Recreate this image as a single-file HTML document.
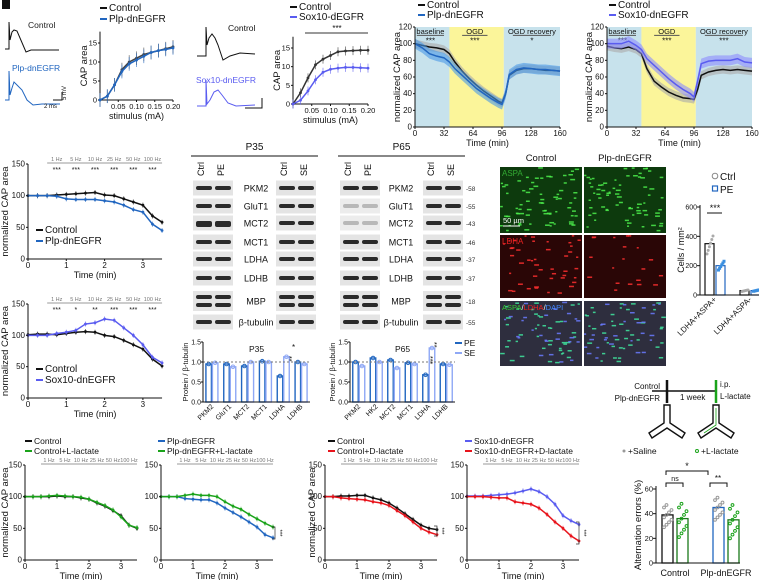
<!DOCTYPE html>
<html><head><meta charset="utf-8"><style>
body{margin:0;background:#fff}
svg{display:block;font-family:"Liberation Sans",Arial,sans-serif}
</style></head><body>
<svg id="fig" width="759" height="580" viewBox="0 0 759 580" xmlns="http://www.w3.org/2000/svg">
<rect x="2" y="0" width="8" height="9" fill="#111"/>
</svg>
<script>
// ---- data ----
const stimX=[0,0.02,0.04,0.06,0.08,0.1,0.12,0.14,0.16,0.18,0.2];
const stim1Control=[0,1,4,8,10,11,12,12.5,13,13.5,14];
const stim1Plp=[0,1,4,7.5,9.5,10.5,11.5,12.5,13,13.3,13.7];
const stim2Control=[0,3,7,10.5,12,13,14,14.2,14.3,14.4,14.4];
const stim2Sox=[0,1,3.5,6.5,8.5,9.3,9.6,9.8,9.8,9.7,9.6];
const stimTicks=[0.05,0.10,0.15,0.20];

const ogdT=[0,8,16,24,32,38,44,52,60,68,76,84,92,96,100,104,112,120,128,136,144,152,160];
const ogd1Control=[100,98,96,95,93,88,78,67,58,50,43,37,31,29,40,62,68,70,70,69,68,68,67];
const ogd1Plp=[100,95,88,85,83,78,70,62,54,46,40,34,29,27,40,63,69,71,70,69,69,68,67];
const ogd2Control=[97,95,94,96,93,88,70,55,48,42,38,35,34,33,45,62,66,68,69,68,69,68,67];
const ogd2Sox=[100,100,100,103,98,93,82,74,66,58,51,45,40,36,55,76,79,80,80,80,82,78,77];
const ogdTicks=[0,32,64,96,128,160];
const ogdYTicks=[0,20,40,60,80,100,120];

const fT=[0,0.25,0.5,0.75,1,1.25,1.5,1.75,2,2.25,2.5,2.75,3,3.25,3.5];
const freq1Control=[100,100,100,101,102,103,104,105,101,100,95,90,85,68,58];
const freq1Plp=[100,100,100,99,95,94,94,94,92,90,85,78,74,55,45];
const freq2Control=[101,102,102,101,103,105,106,105,100,98,92,85,78,62,51];
const freq2Sox=[100,100,100,103,105,108,118,120,126,124,112,100,85,65,56];
const b1Control=[100,100,100,100,101,100,100,98,96,90,85,78,70,55,50];
const b1Lac=[100,100,100,101,102,101,100,99,96,91,86,79,68,55,51];
const b2Plp=[100,100,100,97,96,95,95,90,82,75,68,60,52,40,35];
const b2Lac=[100,100,100,102,104,102,102,100,92,85,80,72,65,58,52];
const b3Control=[100,100,101,101,102,102,98,95,90,82,73,64,55,50,48];
const b3D=[100,100,98,97,96,95,92,90,86,78,70,60,50,44,40];
const b4Sox=[101,101,101,102,103,104,106,109,112,108,100,88,70,62,56];
const b4D=[100,100,100,99,98,98,92,90,88,82,72,60,50,38,30];
const freqLabels=["1 Hz","5 Hz","10 Hz","25 Hz","50 Hz","100 Hz"];
const freqTicks=[0,1,2,3];

const p35Cats=["PKM2","GluT1","MCT2","MCT1","LDHA","LDHB"];
const p35PE=[0.95,0.95,0.9,1.02,0.65,1.0];
const p35SE=[0.98,0.88,1.0,1.0,1.13,0.95];
const p65Cats=["PKM2","HK2","MCT2","MCT1","LDHA","LDHB"];
const p65PE=[1.0,1.1,1.05,0.98,0.68,0.95];
const p65SE=[0.9,1.0,0.85,0.95,1.35,0.93];
const blotRows=["PKM2","GluT1","MCT2","MCT1","LDHA","LDHB","MBP","β-tubulin"];
const mwMarkers=["58","55","43","46","37","37","18","55"];

const cellCats=["LDHA+ASPA+","LDHA+ASPA-"];
const cellCtrl=[350,30];
const cellPE=[200,30];
const altCats=["Control","Plp-dnEGFR"];
const altSaline=[39,45];
const altLactate=[36,35];

// ---- helpers ----
const S=document.getElementById('fig');
const NS='http://www.w3.org/2000/svg';
function mk(tag,attrs,parent){const e=document.createElementNS(NS,tag);for(const k in attrs)e.setAttribute(k,attrs[k]);(parent||S).appendChild(e);return e;}
function txt(x,y,s,size,opts){const o=Object.assign({x:x,y:y,'font-size':size,fill:'#111'},opts||{});const e=mk('text',o);e.textContent=s;return e;}
function lin(d0,d1,r0,r1){return v=>r0+(v-d0)/(d1-d0)*(r1-r0);}

function axes(name,sx,sy,xd,yd,xt,yt,xfmt,ytitle,xtitle,ytx,fs){
  const g=mk('g',{});
  
  
  mk('line',{x1:sx(xd[0]),y1:sy(yd[0]),x2:sx(xd[1]),y2:sy(yd[0]),stroke:'#111','stroke-width':1},g);
  mk('line',{x1:sx(xd[0]),y1:sy(yd[0]),x2:sx(xd[0]),y2:sy(yd[1]),stroke:'#111','stroke-width':1},g);
  xt.forEach(v=>{mk('line',{x1:sx(v),y1:sy(yd[0]),x2:sx(v),y2:sy(yd[0])+2,stroke:'#111'},g);
    const t=txt(sx(v),sy(yd[0])+9,xfmt(v),fs||8,{'text-anchor':'middle'});g.appendChild(t);});
  yt.forEach(v=>{mk('line',{x1:sx(xd[0])-2,y1:sy(v),x2:sx(xd[0]),y2:sy(v),stroke:'#111'},g);
    const t=txt(sx(xd[0])-3,sy(v)+2.5,String(v),fs||8,{'text-anchor':'end'});g.appendChild(t);});
  if(xtitle){const t=txt((sx(xd[0])+sx(xd[1]))/2,sy(yd[0])+19,xtitle,9,{'text-anchor':'middle'});g.appendChild(t);}
  if(ytitle){const cy=(sy(yd[0])+sy(yd[1]))/2;const t=txt(ytx,cy,ytitle,9.5,{'text-anchor':'middle',transform:'rotate(-90 '+ytx+' '+cy+')'});g.appendChild(t);}
}
function series(name,xs,ys,sx,sy,color,err,marker,band){
  const g=mk('g',{});
  
  
  if(band){let up=xs.map((x,i)=>sx(x)+','+sy(ys[i]+err)).join(' ');let dn=xs.map((x,i)=>sx(x)+','+sy(ys[i]-err)).reverse().join(' ');
    mk('polygon',{points:up+' '+dn,fill:band,opacity:0.6},g);}
  else{xs.forEach((x,i)=>mk('line',{x1:sx(x),y1:sy(ys[i]-err),x2:sx(x),y2:sy(ys[i]+err),stroke:color,'stroke-width':0.8,opacity:0.7},g));}
  mk('polyline',{points:xs.map((x,i)=>sx(x)+','+sy(ys[i])).join(' '),fill:'none',stroke:color,'stroke-width':1.5},g);
  if(marker)xs.forEach((x,i)=>mk('circle',{cx:sx(x),cy:sy(ys[i]),r:1.4,fill:color},g));
}
function legendEntry(name,x,y,color,label,fs){
  const g=mk('g',{});
  
  
  mk('line',{x1:x,y1:y-3,x2:x+7,y2:y-3,stroke:color,'stroke-width':2},g);
  const t=txt(x+9,y,label,fs||10);g.appendChild(t);
}
const BLK='#111',BLUE='#2166c0',PURP='#5a5cf0',GREEN='#1aa31a',RED='#e8141c';

// ---- A: traces ----
(function(){
  const g=mk('g',{});
  
  
  mk('path',{d:'M5 49 L9 49 L9 22 L10 40 L12 32 L14 30 L17 31 L20 38 L26 52 L31 50 L40 50 L59 50',fill:'none',stroke:BLK,'stroke-width':1},g);
  txt(28,28,'Control',8.5).setAttribute('fill','#222');
  mk('path',{d:'M5 100 L9 100 L9 71 L10 95 L12 88 L14 82 L17 85 L22 90 L27 100 L33 105 L42 104 L60 104',fill:'none',stroke:BLUE,'stroke-width':1},g);
  txt(12,71,'Plp-dnEGFR',8.5,{fill:BLUE});
  mk('path',{d:'M53 100 L62 100 L62 92',fill:'none',stroke:BLK},g);
  txt(44,108,'2 ms',6);txt(66,100,'5 mV',6,{transform:'rotate(-90 66 100)'});
  const g2=mk('g',{});
  
  
  mk('path',{d:'M197 56 L206 56 L206 27 L207 45 L209 38 L212 34 L215 38 L218 45 L223 60 L230 56 L240 53 L255 54',fill:'none',stroke:BLK,'stroke-width':1},g2);
  txt(228,31,'Control',8.5);
  mk('path',{d:'M197 106 L206 106 L206 80 L207 104 L210 100 L214 92 L218 90 L222 95 L228 103 L236 106 L255 105',fill:'none',stroke:PURP,'stroke-width':1},g2);
  txt(196,83,'Sox10-dnEGFR',8.5,{fill:PURP});
  mk('path',{d:'M245 108 L262 108 L262 98',fill:'none',stroke:BLK},g2);
})();

// ---- stimulus charts ----
(function(){
  let sx=lin(0,0.2,100,173),sy=lin(0,15,100,43);
  axes('stim-chart-1',sx,sy,[0,0.2],[0,18],stimTicks,[0,5,10,15],v=>v.toFixed(2),'CAP area','stimulus (mA)',87,7.5);
  series('stim-control-series',stimX,stim1Control,sx,sy,'#444',1.8,true);
  series('stim-plp-series',stimX,stim1Plp,sx,sy,BLUE,1.8,true);
  legendEntry('legend-control',100,11,BLK,'Control',10);
  legendEntry('legend-plp',100,22,BLUE,'Plp-dnEGFR',10);
  sx=lin(0,0.2,293,368);sy=lin(0,15,104,48);
  axes('stim-chart-2',sx,sy,[0,0.2],[0,18],stimTicks,[0,5,10,15],v=>v.toFixed(2),'CAP area','stimulus (mA)',280,7.5);
  series('stim-control2-series',stimX,stim2Control,sx,sy,'#333',1.2,true);
  series('stim-sox10-series',stimX,stim2Sox,sx,sy,PURP,1.2,true);
  legendEntry('legend-control-2',290,10,BLK,'Control',10);
  legendEntry('legend-sox10',290,20,PURP,'Sox10-dEGFR',10);
  mk('line',{x1:305,y1:33,x2:368,y2:33,stroke:'#333'});
  txt(337,31,'***',8,{'text-anchor':'middle'});
})();

// ---- OGD charts ----
function ogd(name,x0,x1,c,cs,s,col,stars,lx,lab){
  const sx=lin(0,160,x0,x1),sy=lin(0,120,127,27);
  const bg=mk('g',{});
  
  
  mk('rect',{x:sx(0),y:sy(120),width:sx(38)-sx(0),height:sy(0)-sy(120),fill:'#c7e2ec'},bg);
  mk('rect',{x:sx(38),y:sy(120),width:sx(98)-sx(38),height:sy(0)-sy(120),fill:'#fbf59a'},bg);
  mk('rect',{x:sx(98),y:sy(120),width:sx(160)-sx(98),height:sy(0)-sy(120),fill:'#c7e2ec'},bg);
  [[2,32,'baseline',stars[0]],[52,80,'OGD',stars[1]],[108,150,'OGD recovery',stars[2]]].forEach(p=>{
    mk('line',{x1:sx(p[0]),y1:sy(110),x2:sx(p[1]),y2:sy(110),stroke:'#555'},bg);
    txt((sx(p[0])+sx(p[1]))/2,sy(111.5),p[2],7.5,{'text-anchor':'middle'});
    txt((sx(p[0])+sx(p[1]))/2,sy(100),p[3],8,{'text-anchor':'middle'});
  });
  series(name+'-control-series',ogdT,c,sx,sy,BLK,5,false,'#aaa');
  series(name+'-mutant-series',ogdT,s,sx,sy,col,6,false,col==BLUE?'#4a9ae8':'#8c8cff');
  axes(name,sx,sy,[0,160],[0,120],ogdTicks,ogdYTicks,v=>String(v),'normalized CAP area','Time (min)',x0-15,8);
  legendEntry(name+'-legend-control',lx,8,BLK,'Control',10);
  legendEntry(name+'-legend-mutant',lx,18,col,lab,10);
}
ogd('ogd-chart-1',415,560,ogd1Control,null,ogd1Plp,BLUE,['***','***','*'],418,'Plp-dnEGFR');
ogd('ogd-chart-2',607,752,ogd2Control,null,ogd2Sox,PURP,['***','***','***'],609,'Sox10-dnEGFR');

// ---- frequency charts ----
function freqChart(name,x0,xpm,y0,y150,a,b,ca,cb,stars,ytx,showY){
  const sx=lin(0,1,x0,x0+xpm),sy=lin(0,150,y0,y150);
  const g=mk('g',{});
  
  
  mk('line',{x1:sx(0.5),y1:y150-1,x2:sx(3.5),y2:y150-1,stroke:'#999'},g);
  freqLabels.forEach((f,i)=>{const xc=sx(0.5+i*0.5+0.25);txt(xc,y150-3,f,5.5,{'text-anchor':'middle',fill:'#777'});
    if(stars)txt(xc,y150+8,stars[i],7,{'text-anchor':'middle'});});
  series(name+'-series-a',fT,a,sx,sy,ca,4,true,null);
  series(name+'-series-b',fT,b,sx,sy,cb,4,true,null);
  axes(name,sx,sy,[0,3.5],[0,150],freqTicks,[0,50,100,150],v=>String(v),showY?'normalized CAP area':null,'Time (min)',ytx,8);
  return [sx,sy];
}
freqChart('freq-chart-plp',28,38.3,259,164,freq1Control,freq1Plp,BLK,BLUE,['***','***','***','***','***','***'],8,true);
legendEntry('freq-legend-control',36,233,BLK,'Control',10);
legendEntry('freq-legend-plp',36,244,BLUE,'Plp-dnEGFR',10);
freqChart('freq-chart-sox10',28,38.3,398,304,freq2Control,freq2Sox,BLK,PURP,['***','*','**','***','***','***'],8,true);
legendEntry('freq-legend-control-2',36,372,BLK,'Control',10);
legendEntry('freq-legend-sox10',36,383,PURP,'Sox10-dnEGFR',10);

// bottom row
freqChart('lactate-chart-1',25,32,560,465,b1Control,b1Lac,BLK,GREEN,null,8,true);
legendEntry('lac1-legend-control',25,444,BLK,'Control',8.5);
legendEntry('lac1-legend-lactate',25,454,GREEN,'Control+L-lactate',8.5);
freqChart('lactate-chart-2',161,32,560,465,b2Plp,b2Lac,BLUE,GREEN,null,0,false);
legendEntry('lac2-legend-plp',158,444,BLUE,'Plp-dnEGFR',8.5);
legendEntry('lac2-legend-lactate',158,454,GREEN,'Plp-dnEGFR+L-lactate',8.5);
freqChart('dlactate-chart-3',325,32,560,465,b3Control,b3D,BLK,RED,null,315,true);
legendEntry('dlac3-legend-control',328,444,BLK,'Control',8.5);
legendEntry('dlac3-legend-d',328,454,RED,'Control+D-lactate',8.5);
freqChart('dlactate-chart-4',467,32,560,465,b4Sox,b4D,PURP,RED,null,0,false);
legendEntry('dlac4-legend-sox10',465,444,PURP,'Sox10-dnEGFR',8.5);
legendEntry('dlac4-legend-d',465,454,RED,'Sox10-dnEGFR+D-lactate',8.5);
[[275,527,539],[437,526,536],[579,522,544]].forEach((p,i)=>{
  const g=mk('g',{});
  
  
  mk('path',{d:'M'+(p[0]-3)+' '+p[1]+' H'+p[0]+' V'+p[2]+' H'+(p[0]-3),fill:'none',stroke:'#333','stroke-width':0.7},g);
  txt(p[0]+3,(p[1]+p[2])/2,'***',6,{transform:'rotate(90 '+(p[0]+3)+' '+((p[1]+p[2])/2)+')','text-anchor':'middle'});
});

// ---- western blots ----
const rowY=[188,206,223,242,259,278,301,322];
function blots(name,title,xL,xLab,xR,hdr,markers){
  const g=mk('g',{});
  
  
  txt((xL+xR+40)/2,150,title,10,{'text-anchor':'middle'});
  mk('line',{x1:xL-2,y1:156,x2:xR+42,y2:156,stroke:'#111'},g);
  [[xL+8,hdr[0]],[xL+28,hdr[1]],[xR+8,hdr[2]],[xR+28,hdr[3]]].forEach(h=>{
    txt(h[0]+3,176,h[1],9,{transform:'rotate(-90 '+(h[0]+3)+' 176)'});});
  blotRows.forEach((r,i)=>{
    const y=rowY[i],hh=(r=='MBP')?20:15;
    [xL,xR].forEach((bx,j)=>{
      const faint=(title=='P65'&&j==0&&(i==1||i==2));
      mk('rect',{x:bx,y:y-hh/2,width:40,height:hh,fill:faint?'#ececec':'#e4e4e4'},g);
      const bands=(r=='MBP')?[-4,4]:[0];
      bands.forEach(o=>{[bx+3,bx+22].forEach(lx=>mk('rect',{x:lx,y:y+o-2,width:16,height:(i==2&&title=='P35'&&j==0)?6:4,rx:2,fill:faint?'#b8b8b8':'#2a2a2a'},g));});
    });
    txt(xLab,y+3.5,r,9,{'text-anchor':'middle'});
    if(markers)txt(xR+43,y+3,'-'+mwMarkers[i],6.5,{fill:'#333'});
  });
}
blots('western-blot-p35','P35',193,256,276,['Ctrl','PE','Ctrl','SE'],false);
blots('western-blot-p65','P65',340,401,423,['Ctrl','PE','Ctrl','SE'],true);

function protBars(name,x0,x1,cats,pe,se,title){
  const sy=lin(0,1.5,402,342),bw=(x1-x0)/cats.length;
  const sx=i=>x0+bw*i+bw/2;
  const g=mk('g',{});
  
  
  txt((x0+x1)/2,352,title,8.5,{'text-anchor':'middle'});
  cats.forEach((c,i)=>{
    const b1=mk('rect',{x:sx(i)-6,y:sy(pe[i]),width:5.5,height:sy(0)-sy(pe[i]),fill:'#fff',stroke:BLUE,'stroke-width':1.4},g);
    
    const b2=mk('rect',{x:sx(i)+0.5,y:sy(se[i]),width:5.5,height:sy(0)-sy(se[i]),fill:'#fff',stroke:'#8fa8f5','stroke-width':1.4},g);
    
    mk('circle',{cx:sx(i)-3.2,cy:sy(pe[i]),r:1.8,fill:'none',stroke:BLUE},g);
    mk('circle',{cx:sx(i)+3.2,cy:sy(se[i]),r:1.8,fill:'none',stroke:'#8fa8f5'},g);
    const lx=sx(i)+2,ly=407;
    txt(lx,ly,c,7,{'text-anchor':'end',transform:'rotate(-45 '+lx+' '+ly+')'});
  });
  mk('line',{x1:x0,y1:sy(1),x2:x1,y2:sy(1),stroke:'#777','stroke-dasharray':'2,2'},g);
  mk('line',{x1:x0,y1:sy(0),x2:x1,y2:sy(0),stroke:'#111'},g);
  mk('line',{x1:x0,y1:sy(0),x2:x0,y2:sy(1.5),stroke:'#111'},g);
  [0,0.5,1,1.5].forEach(v=>{txt(x0-2,sy(v)+2.5,v.toFixed(1),7,{'text-anchor':'end'});mk('line',{x1:x0-2,y1:sy(v),x2:x0,y2:sy(v),stroke:'#111'},g);});
  txt(x0-15,372,'Protein / β-tubulin',7.5,{'text-anchor':'middle',transform:'rotate(-90 '+(x0-15)+' 372)'});
}
protBars('protein-bars-p35',203,310,p35Cats,p35PE,p35SE,'P35');
txt(287,356,'**',7,{transform:'rotate(90 287 356)'});txt(292,350,'*',8);
protBars('protein-bars-p65',350,455,p65Cats,p65PE,p65SE,'P65');
txt(428,356,'***',7,{transform:'rotate(90 428 356)'});txt(432,342,'**',7,{transform:'rotate(90 432 342)'});
legendEntry('legend-pe',455,346,BLUE,'PE',8.5);
legendEntry('legend-se',455,356,'#8fa8f5','SE',8.5);

// ---- microscopy ----
(function(){
  let seed=7;const rnd=()=>{seed=(seed*16807)%2147483647;return seed/2147483647;};
  const cols=[500,584],rows=[167,235,301],H=[66,63,65];
  txt(541,161,'Control',9.5,{'text-anchor':'middle'});
  txt(625,161,'Plp-dnEGFR',9.5,{'text-anchor':'middle'});
  cols.forEach((cx,ci)=>rows.forEach((ry,ri)=>{
    const g=mk('g',{});
    
    
    mk('rect',{x:cx,y:ry,width:82,height:H[ri],fill:ri==0?'#0d3a0d':ri==1?'#2a0606':'#2e2e3e'},g);
    const n=ri==1?(ci==0?45:20):70;
    for(let k=0;k<n;k++){const c=ri==0?'#4cef4c':ri==1?'#ff3030':(rnd()<0.6?'#40e8a0':'#6a7aff');
      mk('rect',{x:cx+rnd()*78,y:ry+rnd()*(H[ri]-3),width:2+rnd()*3,height:1.5,fill:c,opacity:0.85},g);}
  }));
  txt(502,176,'ASPA',8,{fill:'#3a3'});
  txt(502,244,'LDHA',8,{fill:'#e22'});
  const t=txt(502,310,'',7.5);t.innerHTML='<tspan fill="#3c3">ASPA</tspan><tspan fill="#fff">/</tspan><tspan fill="#e22">LDHA</tspan><tspan fill="#fff">/</tspan><tspan fill="#48f">DAPI</tspan>';
  mk('line',{x1:503,y1:226,x2:520,y2:226,stroke:'#fff'});
  txt(503,223,'50 µm',7.5,{fill:'#fff'});
})();

// ---- cells bar chart ----
(function(){
  const sy=lin(0,600,295,207);
  const xs=[715,750];
  const g=mk('g',{});
  
  
  cellCats.forEach((c,i)=>{
    const a=mk('rect',{x:xs[i]-10,y:sy(cellCtrl[i]),width:9,height:sy(0)-sy(cellCtrl[i]),fill:'#fff',stroke:BLK,'stroke-width':1.2},g);
    
    const b=mk('rect',{x:xs[i]+1,y:sy(cellPE[i]),width:9,height:sy(0)-sy(cellPE[i]),fill:'#fff',stroke:BLUE,'stroke-width':1.2},g);
    
    for(let k=0;k<6;k++){mk('circle',{cx:xs[i]-8+k*1.2,cy:sy(cellCtrl[i]*(0.8+k*0.07)),r:1.5,fill:'#aaa'},g);
      mk('rect',{x:xs[i]+2+k*1.1,y:sy(cellPE[i]*(0.85+k*0.06))-1.5,width:3,height:3,fill:'#3a8fe0'},g);}
    const lx=xs[i]+2,ly=300;txt(lx,ly,c,8,{'text-anchor':'end',transform:'rotate(-45 '+lx+' '+ly+')'});
  });
  mk('line',{x1:700,y1:295,x2:759,y2:295,stroke:'#111'},g);
  mk('line',{x1:700,y1:295,x2:700,y2:205,stroke:'#111'},g);
  [0,200,400,600].forEach(v=>{txt(697,sy(v)+2.5,String(v),7,{'text-anchor':'end'});mk('line',{x1:697,y1:sy(v),x2:700,y2:sy(v),stroke:'#111'},g);});
  txt(684,250,'Cells / mm²',9,{'text-anchor':'middle',transform:'rotate(-90 684 250)'});
  mk('line',{x1:707,y1:213,x2:722,y2:213,stroke:'#111'},g);txt(715,211,'***',9,{'text-anchor':'middle'});
  mk('circle',{cx:715,cy:176,r:2.8,fill:'none',stroke:'#888'},g);txt(720,180,'Ctrl',10);
  mk('rect',{x:712.5,y:186,width:5,height:5,fill:'none',stroke:BLUE,'stroke-width':1.2},g);txt(720,193,'PE',10,{fill:'#111'});
})();

// ---- Y maze ----
(function(){
  const g=mk('g',{});
  
  
  txt(660,389,'Control',8,{'text-anchor':'end'});
  txt(660,401,'Plp-dnEGFR',8,{'text-anchor':'end'});
  mk('line',{x1:652,y1:391,x2:717,y2:391,stroke:BLK,'stroke-width':1.5},g);
  mk('line',{x1:667,y1:380,x2:667,y2:403,stroke:BLK,'stroke-width':2.5},g);
  mk('line',{x1:716,y1:380,x2:716,y2:403,stroke:GREEN,'stroke-width':2.5},g);
  txt(680,400,'1 week',8);txt(720,387,'i.p.',8);txt(720,399,'L-lactate',8);
  [667,716].forEach((cx,i)=>{
    const arm='M'+(cx-3)+' 405 H'+(cx+3)+' V423 L'+(cx+18)+' 433 L'+(cx+15)+' 438 L'+cx+' 428 L'+(cx-15)+' 438 L'+(cx-18)+' 433 L'+(cx-3)+' 423 Z';
    mk('path',{d:arm,fill:'#fff',stroke:BLK,'stroke-width':1.4},g);
    if(i==1)mk('path',{d:'M'+cx+' 408 V425 L'+(cx-12)+' 433',fill:'none',stroke:GREEN,'stroke-width':0.8},g);
  });
  mk('circle',{cx:624,cy:451,r:1.5,fill:'#999'},g);txt(628,454,'+Saline',8.5);
  mk('circle',{cx:697,cy:451,r:1.5,fill:'none',stroke:GREEN},g);txt(701,454,'+L-lactate',8.5);
})();

// ---- alternation errors ----
(function(){
  const sy=lin(0,60,563,489);
  const xs=[674,725];
  const g=mk('g',{});
  
  
  altCats.forEach((c,i)=>{
    const a=mk('rect',{x:xs[i]-12,y:sy(altSaline[i]),width:11,height:sy(0)-sy(altSaline[i]),fill:'#fff',stroke:i?BLUE:BLK,'stroke-width':1.3},g);
    
    const b=mk('rect',{x:xs[i]+3,y:sy(altLactate[i]),width:11,height:sy(0)-sy(altLactate[i]),fill:'#fff',stroke:'#1a7a1a','stroke-width':1.3},g);
    
    for(let k=0;k<10;k++){mk('circle',{cx:xs[i]-10+(k%4)*2.5,cy:sy(altSaline[i]+(k-5)*2),r:1.4,fill:'none',stroke:'#999'},g);
      mk('circle',{cx:xs[i]+5+(k%4)*2.5,cy:sy(altLactate[i]+(k-5)*3),r:1.4,fill:'none',stroke:GREEN},g);}
    txt(xs[i]+1,576,c,9,{'text-anchor':'middle'});
  });
  mk('line',{x1:656,y1:563,x2:740,y2:563,stroke:'#111'},g);
  mk('line',{x1:656,y1:563,x2:656,y2:486,stroke:'#111'},g);
  [0,20,40,60].forEach(v=>{txt(653,sy(v)+2.5,String(v),7.5,{'text-anchor':'end'});mk('line',{x1:653,y1:sy(v),x2:656,y2:sy(v),stroke:'#111'},g);});
  txt(641,525,'Alternation errors (%)',9.5,{'text-anchor':'middle',transform:'rotate(-90 641 525)'});
  mk('path',{d:'M666 475 V471 H708 V475',fill:'none',stroke:'#111'},g);txt(687,469,'*',9,{'text-anchor':'middle'});
  mk('path',{d:'M666 487 V483 H683 V487',fill:'none',stroke:'#111'},g);txt(675,481,'ns',7,{'text-anchor':'middle'});
  mk('path',{d:'M710 487 V483 H727 V487',fill:'none',stroke:'#111'},g);txt(718,481,'**',8,{'text-anchor':'middle'});
})();
</script>
</body></html>
